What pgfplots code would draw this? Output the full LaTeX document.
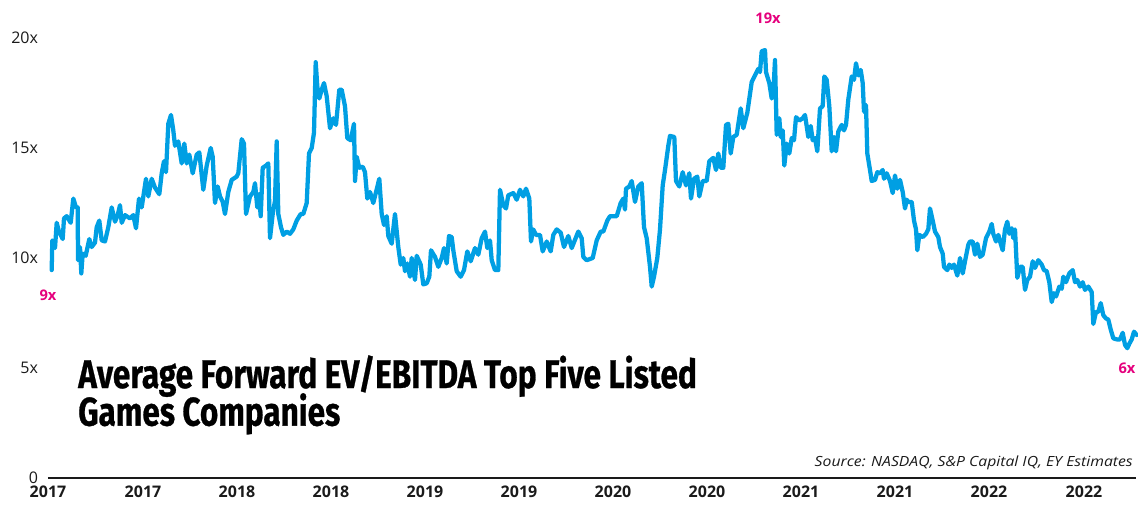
\documentclass[border=0pt]{standalone}
\usepackage{pgfplots}
\pgfplotsset{compat=1.18}
\usepackage{fontspec}
\usepackage{graphicx}
\setmainfont{Open Sans}
\newfontfamily\titlefont{Fira Sans}[BoldFeatures={FakeBold=0.8}]
\definecolor{lineblue}{HTML}{009FE3}
\definecolor{accentpink}{HTML}{E5007D}
\definecolor{txt}{HTML}{1A1A1A}

\pgfplotstableread{
x y
51.7 9.45
52.3 10.8
55 10.45
56.7 11.6
59 11.2
62.7 10.86
64 11.8
66.7 11.9
70.7 11.6
73.3 12.7
76 12.3
77.7 12.3
78 9.9
80 10.5
81.3 9.3
82.7 10.2
85.7 10.1
89.3 10.86
91.7 10.5
95 10.7
96.7 11.4
99.3 11.7
101.7 10.8
105 10.75
108.3 11.4
111.7 12.3
115 11.65
117.7 11.95
120 12.4
121.7 11.6
125 11.95
130 11.8
133.3 11.95
136 11.35
139 12.7
141.7 12.3
146 13.6
148.3 12.8
151.7 13.6
155 13.2
159.3 12.9
161.7 13.85
164 14.4
166 13.9
168.3 16.1
171 16.5
173.3 15.8
175 15.1
178.3 15.3
181.7 14.3
184.3 15.2
186.7 14.3
189.3 14.7
192.7 13.85
196.7 14.7
199.3 14.8
203.3 13.1
206.7 14.2
210.7 15.0
212.7 14.6
215 12.5
217.7 13.25
220 12.8
222.7 12.55
225 12.0
228.3 13.0
231.7 13.55
236.7 13.7
238.3 13.85
241.7 15.4
244 15.2
246 12.0
250 12.8
253.3 13.0
255 13.4
257.3 12.3
259 12.9
260.7 11.9
262.7 14.1
266 14.2
268.3 14.3
270 10.9
272.7 12.0
275 12.6
276.7 15.3
278.3 12.0
281 11.4
283.3 11.05
286.7 11.2
290 11.1
293.3 11.3
296.7 11.7
300.7 12.0
303.3 12.0
306.7 12.5
309 14.75
311.7 15.0
314 15.7
315.7 18.9
317.3 17.8
319.3 17.25
321.7 17.65
324 17.95
326.7 17.35
330 15.9
333.3 16.35
336 16.05
339.3 17.65
341.7 17.65
345 16.9
347.3 15.45
350.7 15.35
354 16.1
355 13.5
356.7 14.6
359.3 14.1
362.7 14.15
365 13.9
367.3 12.7
370 13.0
373.3 12.5
379.3 13.6
381.7 12.0
384 11.5
386.7 11.9
388.3 11.0
391.7 10.65
395 12.0
398.3 10.5
400.7 9.7
403.3 10.0
405 9.4
407.3 9.75
410 9.15
411.7 10.0
415 9.0
416.7 10.1
420.7 9.7
423.3 8.8
426.7 8.85
429.3 9.15
431 10.35
435 10.05
438.3 9.6
441.7 10.0
444 10.45
446.7 9.75
449 11.0
451.7 10.95
453.3 10.35
456.7 9.4
460.7 9.15
464 9.45
467.3 10.3
470.7 9.85
475 10.45
478.3 10.15
481.7 10.9
485 11.2
487.3 10.45
490 10.8
491.7 9.9
495 9.45
498.3 9.45
500 13.1
503.3 12.4
506 12.25
508.3 12.85
513.3 12.95
516.7 12.65
520 13.1
523.3 12.8
526 13.15
529.3 12.7
531 10.75
533.3 11.3
536 11.05
540 11.05
542.7 10.3
546.7 10.75
550.7 10.3
553.3 11.05
556.7 11.3
560.7 11.15
564 10.5
568.3 11.0
571.7 10.45
578.3 11.2
581.7 10.9
583.3 10.05
586.7 9.9
592.7 10.0
596.7 10.8
600.7 11.2
603.3 11.2
607.3 11.7
610 11.9
616.7 11.9
620.7 12.5
623.3 12.7
625 12.2
626 13.15
629.3 13.25
631.7 13.5
635 12.55
638.3 13.25
641.7 13.4
644 11.4
646.7 10.9
650 9.6
651.7 8.7
654 9.15
657.3 10.0
660 11.3
662.7 13.3
665 14.0
668.3 15.1
670 15.55
674.3 15.5
676 13.5
679.3 13.25
682.7 13.9
686 13.3
689.3 13.85
691 12.7
694 13.6
697.3 13.7
699.3 12.8
702.7 13.5
706.7 13.5
709.3 14.4
713.3 14.55
716 14.0
718.3 14.75
720.7 14.1
723.3 14.1
726 16.05
728.3 16.1
730.7 14.75
733.3 15.5
736.7 15.6
740.7 16.8
743.3 15.9
747.3 16.6
751.7 18.0
755 18.3
758.3 18.6
760 18.45
761.7 19.4
765 19.45
766 18.45
769.3 17.95
771.7 17.25
773.3 17.5
775 19.0
776.7 15.6
779.3 16.35
780.7 15.5
782.7 15.8
784.3 14.2
786.7 15.2
789.3 14.75
791.7 15.45
794 15.35
796 16.4
799.3 16.25
802.7 16.35
805 16.5
808.3 15.5
810.7 16.0
812.7 15.35
815 15.45
817.3 14.85
820 16.8
822.7 16.9
824.3 18.25
826.7 18.1
829.3 16.9
831.7 14.85
834 15.5
836 14.85
838.3 15.75
841.7 16.05
844 15.8
846 16.05
848.3 17.2
851.7 18.25
854 18.1
856 18.85
858.3 18.3
860.7 18.55
862.7 17.95
864 16.65
866 16.95
867.3 14.75
870 14.0
871.7 13.5
875 13.55
877.3 13.9
880 13.85
882.7 14.0
884 13.6
886.7 13.85
890 13.5
892.7 12.95
895 13.75
897.3 13.15
900 13.55
902.7 13.0
905 12.25
906.7 12.65
908.3 12.55
911.7 12.55
914 11.7
916 11.3
917.3 10.35
919.3 11.05
922.7 10.95
926 11.1
928.3 11.3
930 12.25
932.7 11.7
935 11.2
938.3 10.95
940 10.5
942.7 10.2
944 9.6
947.3 9.45
949.3 9.7
951.7 9.55
954 9.7
957.3 9.2
960 10.0
962.7 9.3
965 9.85
968.3 10.6
970 10.75
972.7 10.75
975 10.15
977.3 10.65
980 10.05
982.7 10.15
986 10.9
989.3 11.2
991.7 11.55
993.3 11.1
996 10.75
998.3 11.05
1000.7 10.65
1002.7 10.35
1005 11.3
1007.3 11.65
1009.3 11.1
1011.7 11.35
1013.3 10.9
1015 11.3
1017.3 9.1
1020 9.6
1022.7 9.6
1025 8.55
1027.3 9.0
1030 9.15
1032.7 9.85
1035 9.55
1038.3 9.9
1041.7 9.7
1044 9.45
1046.7 9.4
1049.3 8.9
1051.7 8.0
1054 8.4
1056 8.25
1059.3 8.7
1061.7 8.6
1063.3 9.15
1066 8.9
1069.3 9.3
1072.7 9.45
1075 8.9
1077.3 9.0
1080 8.7
1082.7 8.9
1085 8.55
1088.3 8.7
1091.7 8.45
1093.3 7.0
1096 7.55
1098.3 7.55
1100.7 7.95
1103.3 7.4
1106 7.25
1108.3 7.2
1110.7 6.75
1113.3 6.35
1116.7 6.3
1120 6.3
1122.7 6.6
1125 6.05
1127.3 5.9
1129.3 6.1
1131.7 6.3
1134 6.65
1136.7 6.5
}\evdata

\begin{document}
\begin{tikzpicture}
\path[use as bounding box] (-36pt,-21pt) rectangle (817.5pt,358.5pt);
\begin{axis}[
  at={(0,0)}, anchor=south west,
  scale only axis, width=816pt, height=358.5pt,
  xmin=48, xmax=1136, ymin=0, ymax=21.727,
  axis lines=left, axis line style={-},
  x axis line style={line width=1.5pt, draw=txt},
  y axis line style={draw=none},
  major tick length=0pt, tick style={draw=none},
  xtick={48,143,237,331,425,519,613,707,801,895,989,1084},
  xticklabels={2017,2017,2018,2018,2019,2019,2020,2020,2021,2021,2022,2022},
  ytick={0,5,10,15,20},
  yticklabels={0,5x,10x,15x,20x},
  /pgf/number format/assume math mode=true,
  yticklabel style={font=\fontsize{12}{14}\selectfont, text=txt, xshift=-4pt},
  xticklabel style={font=\fontsize{12}{14}\selectfont\bfseries, text=txt, yshift=-5pt, inner sep=1pt},
  clip=false,
]
\addplot[lineblue, line width=3.2pt, line join=round, line cap=round] table[x=x,y=y] {\evdata};
\node[text=accentpink, font=\fontsize{11}{13}\selectfont\bfseries] at (axis cs:48,8.32) {9x};
\node[text=accentpink, font=\fontsize{11}{13}\selectfont\bfseries] at (axis cs:768,20.9) {19x};
\node[text=accentpink, font=\fontsize{11}{13}\selectfont\bfseries] at (axis cs:1127,5.0) {6x};
\node[anchor=base west, inner sep=0pt, text=black] at (axis cs:78,4.09)
  {\resizebox{464pt}{\height}{\titlefont\bfseries\fontsize{30}{36}\selectfont Average Forward EV/EBITDA Top Five Listed}};
\node[anchor=base west, inner sep=0pt, text=black] at (axis cs:78,2.38)
  {\resizebox{196.5pt}{\height}{\titlefont\bfseries\fontsize{30}{36}\selectfont Games Companies}};
\node[anchor=base east, inner sep=0pt, text=txt] at (axis cs:1133,0.545)
  {\resizebox{238.5pt}{\height}{\itshape\fontsize{10.5}{12}\selectfont Source: NASDAQ, S\&P Capital IQ, EY Estimates}};
\end{axis}
\end{tikzpicture}
\end{document}
